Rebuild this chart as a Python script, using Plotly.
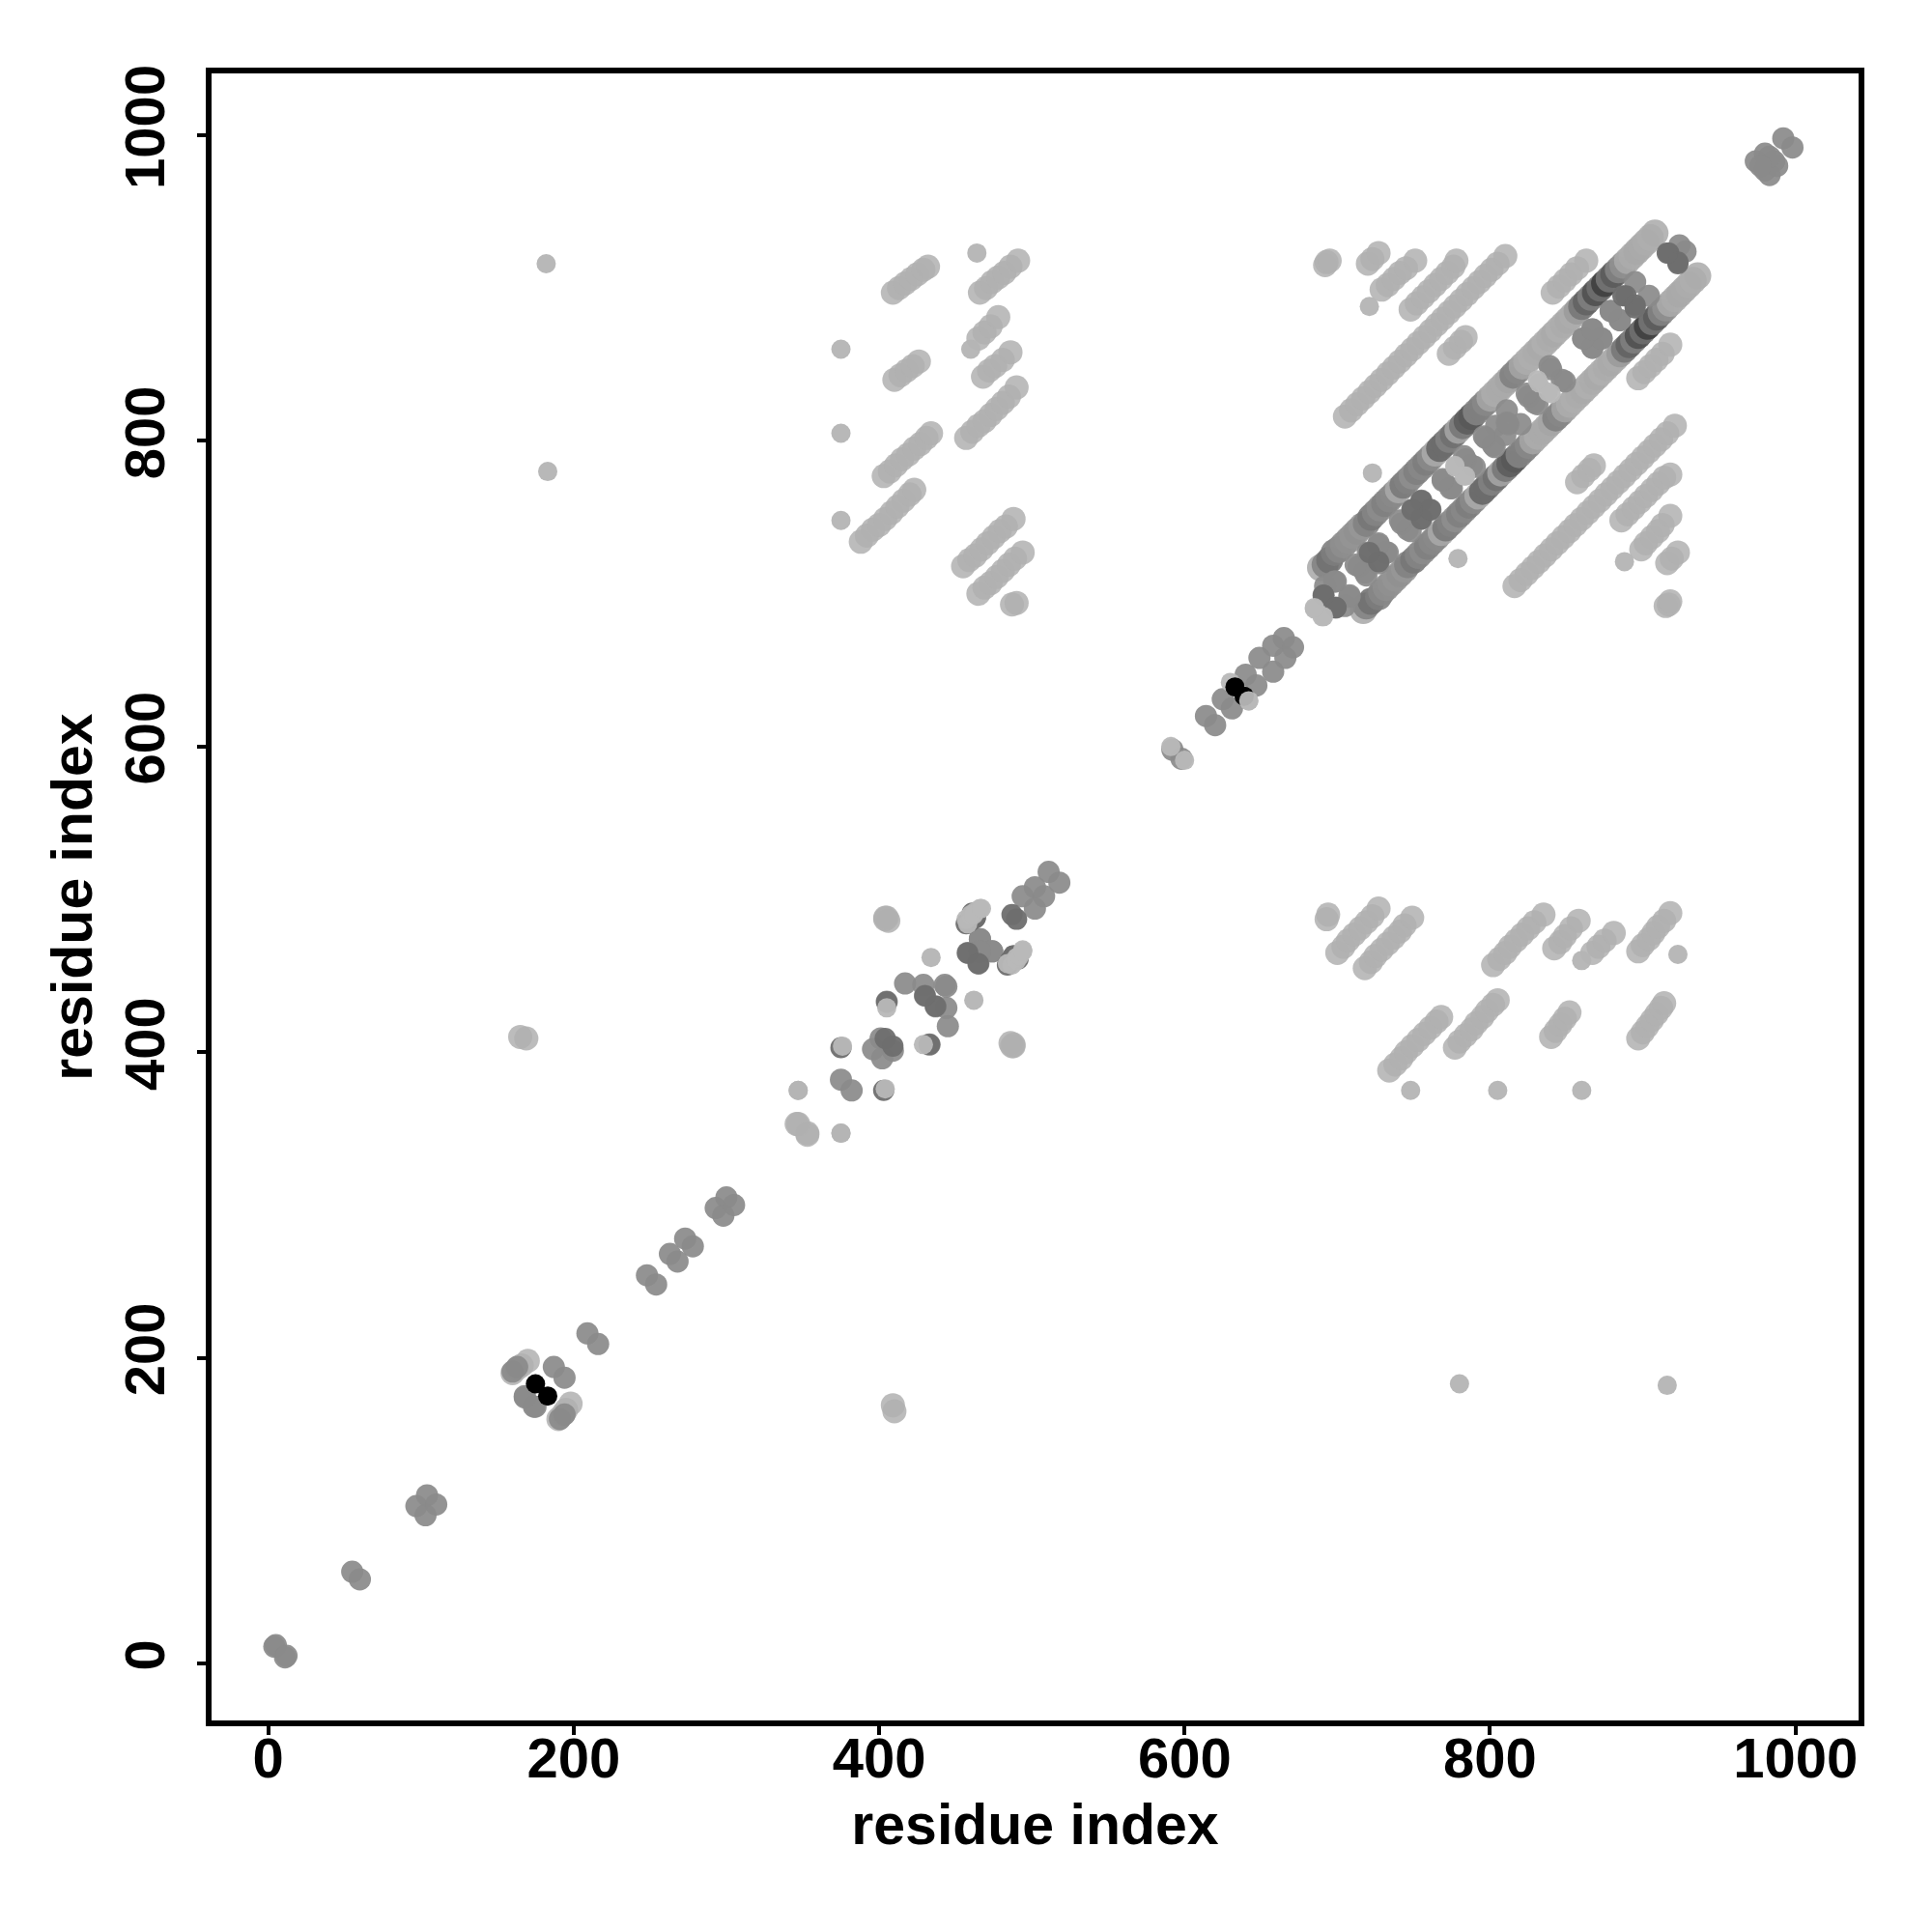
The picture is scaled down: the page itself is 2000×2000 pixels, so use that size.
import plotly.graph_objects as go

x_ticks = [0, 200, 400, 600, 800, 1000]
y_ticks = [0, 200, 400, 600, 800, 1000]
axis_title = "residue index"

# Contacts are read as (lower residue, higher residue); the map is symmetric.
light_i = [409,413,417,421,425,429,432, 410,414,418,422,426,
           403,407,411,415,419,423,427,431,434,
           388,392,396,400,404,408,412,416,420,423,
           466,470,474,478,482,486,491, 465,469,473,478, 468,472,476,481,486,
           457,461,465,469,473,477,481,485,490,
           455,459,463,467,471,475,479,483,488,
           465,469,473,477,481,485,489,494, 487,490,
           692,693,695, 720,723,727, 729,733,737,741,745,751,
           748,752,756,760,764,768,772,776,778,
           705,709,713,717,721,725,729,733,737,741,745,749,753,757,761,765,769,773,777,781,785,789,793,797,801,805,810,
           773,777,781,784, 841,845,849,853,857,863,
           165,169, 346,353, 160,163,166,170, 404,406, 487,488]
light_j = [897,900,903,906,909,912,914, 840,843,846,849,852,
           777,780,784,788,791,795,798,802,805,
           734,738,742,745,749,753,757,761,765,768,
           897,900,904,907,910,914,918, 867,871,875,881, 842,846,849,853,858,
           802,806,810,813,817,821,825,829,835,
           718,722,725,729,733,737,741,744,749,
           700,704,707,711,715,719,723,727, 693,694,
           915,917,918, 916,919,923, 899,902,906,910,913,918,
           886,890,894,898,902,906,910,914,918,
           816,820,824,828,832,836,840,844,848,852,856,860,864,868,872,876,880,884,888,892,896,900,904,908,912,916,921,
           857,861,865,868, 897,901,905,909,913,918,
           410,409, 353,347, 190,193,195,198, 488,486, 404,405]

single_i = [375,375,375,464,460,721,723,182,183,434,347,347]
single_j = [748,805,860,923,860,888,779,916,780,462,375,375]

rail_i = [689,692,695,698,701,704,707,710,713,716,719,722,725,728,731,734,737,740,743,746,
          749,752,755,758,761,764,767,770,773,776,779,782,785,788,791,794,797,800,803,806,
          809,812,815,818,821,824,827,830,833,836,839,842,845,848,851,854,857,860,863,866,
          869,872,875,878,881,884,887,890,893,896,899,902,905,908]
rail_j = [717,719,722,727,729,732,735,738,741,744,746,750,753,756,759,762,765,768,771,774,
          777,780,783,786,789,792,795,798,801,804,807,810,813,816,819,822,825,828,831,834,
          837,840,843,846,849,852,855,858,861,864,867,870,873,876,879,882,885,888,891,894,
          897,900,903,906,909,912,915,918,921,924,927,930,933,936]
rail_grey = [170,130,112,125,135,142,145,148,145,150,130,118,132,140,128,135,138,168,120,130,
             142,128,135,125,138,170,100,108,130,112,165,118,92,88,132,128,135,165,172,170,
             170,165,128,135,165,172,174,172,170,175,172,170,175,172,170,172,155,118,98,128,
             78,112,62,118,90,132,145,170,172,168,170,172,174,172]

mid_i = [4,5, 55, 97,104, 209,248,263,273, 293,300, 187, 160,163, 168, 174,
         592,614,625,640,649,658,665, 417,429,430,443,
         375,401,396, 405,466, 458,466,466,494,502,511,
         692,699,708,699, 720,727,714,719,733, 749,755,742,748, 769,775,
         784,790, 804,811,812,797,803, 825,831, 840,849, 861,867,867,873, 879,885, 904,924,
         974,980,986,980, 992]
mid_j = [11,12, 60, 103,110, 216,254,268,278, 298,305, 194, 191,194, 175, 168,
         598,620,631,647,658,666,671, 445,444,437,444,
         382,409,402, 433,474, 465,474,466,502,508,518,
         705,708,698,691, 727,732,718,712,727, 755,761,746,741, 774,769,
         788,783, 810,820,811,802,796, 829,824, 847,839, 867,873,861,867, 885,879, 895,928,
         983,988,983,977, 998]

dark_i = [691, 699, 727, 755, 755, 458, 437, 404, 895, 889, 917, 923, 433, 463, 461, 487, 375, 457, 460, 463]
dark_j = [699, 691, 721, 761, 749, 465, 430, 409, 887, 895, 923, 916, 405, 488, 491, 490, 403, 484, 486, 488]

black_i = [175, 633]
black_j = [183, 639]

top_i = [376, 457,460,463,466, 484,490,494, 630, 591, 777,784, 832,840, 685,691, 405]
top_j = [404, 487,490,492,494, 458,462,467, 642, 600, 783,777, 838,831, 690,685, 429]

# One light point that lies over the black pair on the lower side of the diagonal only.
over_x = [642]
over_y = [630]


def both(a, b):
    return a + b, b + a


def grey(v):
    return f"rgb({v},{v},{v})"


fig = go.Figure()


def add_xy(x, y, color, size, opacity):
    fig.add_trace(go.Scatter(x=x, y=y, mode="markers", hoverinfo="skip", showlegend=False,
                             marker=dict(size=size, color=color, opacity=opacity,
                                         line=dict(width=0))))


def add(i, j, color, size, opacity=0.92):
    x, y = both(i, j)
    add_xy(x, y, color, size, opacity)


add(light_i, light_j, "#b0b0b0", 25, 0.85)
add(single_i, single_j, "#b4b4b4", 20, 0.95)
add(rail_i, rail_j, [grey(v) for v in rail_grey] * 2, 28, 0.88)
add(mid_i, mid_j, "#8a8a8a", 23)
add(dark_i, dark_j, "#6e6e6e", 22, 0.95)
add(top_i, top_j, "#b8b8b8", 20, 0.95)
add(black_i, black_j, "#000000", 20, 1)
add_xy(over_x, over_y, "#b8b8b8", 20, 0.95)

axis = dict(showgrid=False, zeroline=False, showline=True, mirror=True, linecolor="black",
            linewidth=6, ticks="outside", ticklen=9, tickwidth=4, tickcolor="black",
            tickfont=dict(family="Liberation Sans", size=58, color="black", weight="bold"),
            title=dict(text=axis_title,
                       font=dict(family="Liberation Sans", size=59, color="black", weight="bold")))

fig.update_layout(
    width=2000, height=2000, autosize=False,
    paper_bgcolor="white", plot_bgcolor="white",
    margin=dict(l=211, r=84, t=68, b=227),
    font=dict(family="Liberation Sans", color="black", weight="bold"),
)
fig.update_xaxes(**axis, tickvals=x_ticks, range=[-37.1, 1041.3], ticklabelstandoff=-26)
fig.update_yaxes(**axis, tickvals=y_ticks, range=[-37.3, 1040.5], tickangle=-90, ticklabelstandoff=11)
fig.update_xaxes(title_standoff=19)
fig.update_yaxes(title_standoff=4)

fig.write_html("out.html")
